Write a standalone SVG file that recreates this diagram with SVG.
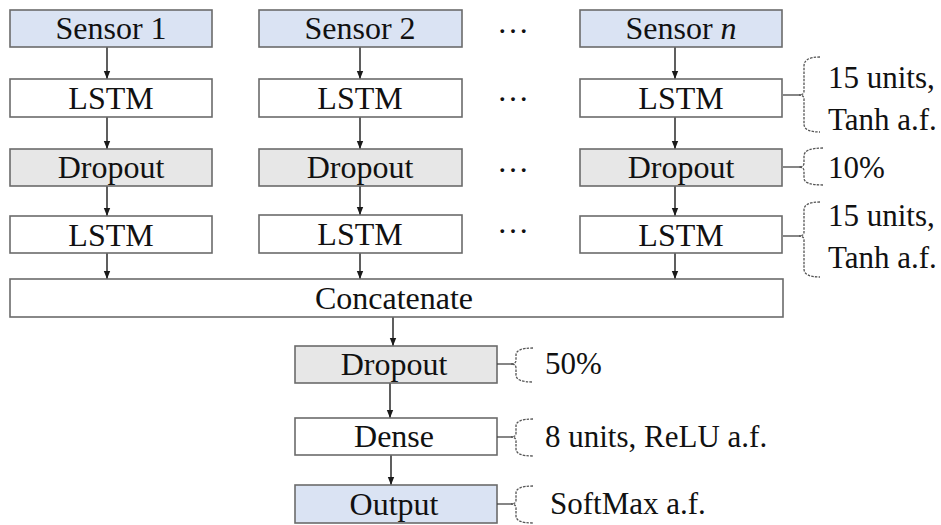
<svg xmlns="http://www.w3.org/2000/svg" width="941" height="525" viewBox="0 0 941 525">
<defs>
<marker id="ah" markerUnits="userSpaceOnUse" markerWidth="8" markerHeight="8" viewBox="0 0 8 8" refX="8" refY="4" orient="auto">
<path d="M0,0.8 L8,4 L0,7.2 Z" fill="#1a1a1a"/>
</marker>
<style>
.b{stroke:#6b6b6b;stroke-width:1.6}
.in{fill:#dae3f3}
.dr{fill:#e7e7e7}
.wh{fill:#ffffff}
.t{font-family:'Liberation Serif','Times New Roman',Tinos,'DejaVu Serif',serif;font-size:32px;fill:#111;text-anchor:middle}
.s{font-family:'Liberation Serif','Times New Roman',Tinos,'DejaVu Serif',serif;font-size:31px;fill:#111}
.c{stroke:#1a1a1a;stroke-width:1.4;fill:none;marker-end:url(#ah)}
.br{stroke:#555;stroke-width:1.3;fill:none;stroke-dasharray:2.5 1.2}
.tk{stroke:#444;stroke-width:1.3;fill:none}
</style>
</defs>
<rect width="941" height="525" fill="#ffffff"/>

<g id="connectors">
<line class="c" x1="107" y1="47" x2="107" y2="79"/>
<line class="c" x1="107" y1="117" x2="107" y2="149"/>
<line class="c" x1="107" y1="186" x2="107" y2="216"/>
<line class="c" x1="107" y1="253" x2="107" y2="279"/>
<line class="c" x1="360" y1="47" x2="360" y2="79"/>
<line class="c" x1="360" y1="117" x2="360" y2="149"/>
<line class="c" x1="360" y1="186" x2="360" y2="215"/>
<line class="c" x1="360" y1="253" x2="360" y2="279"/>
<line class="c" x1="675" y1="47" x2="675" y2="79"/>
<line class="c" x1="675" y1="117" x2="675" y2="149"/>
<line class="c" x1="675" y1="186" x2="675" y2="216"/>
<line class="c" x1="675" y1="253" x2="675" y2="279"/>
<line class="c" x1="393" y1="317" x2="393" y2="346"/>
<line class="c" x1="390" y1="383" x2="390" y2="418"/>
<line class="c" x1="391" y1="455" x2="391" y2="485"/>
</g>

<g id="sensor1"><rect class="b in" x="10" y="10" width="202" height="37"/><text class="t" x="111" y="39">Sensor 1</text></g>
<g id="sensor2"><rect class="b in" x="259" y="10" width="203" height="37"/><text class="t" x="360" y="39">Sensor 2</text></g>
<g id="sensorn"><rect class="b in" x="580" y="10" width="202" height="37"/><text class="t" x="681" y="39">Sensor <tspan font-style="italic">n</tspan></text></g>

<g id="lstm1a"><rect class="b wh" x="10" y="79" width="202" height="38"/><text class="t" x="111" y="109">LSTM</text></g>
<g id="lstm2a"><rect class="b wh" x="259" y="79" width="203" height="38"/><text class="t" x="360" y="109">LSTM</text></g>
<g id="lstmna"><rect class="b wh" x="580" y="79" width="202" height="38"/><text class="t" x="681" y="109">LSTM</text></g>

<g id="drop1"><rect class="b dr" x="10" y="149" width="202" height="37"/><text class="t" x="111" y="178">Dropout</text></g>
<g id="drop2"><rect class="b dr" x="259" y="149" width="203" height="37"/><text class="t" x="360" y="178">Dropout</text></g>
<g id="dropn"><rect class="b dr" x="580" y="149" width="202" height="37"/><text class="t" x="681" y="178">Dropout</text></g>

<g id="lstm1b"><rect class="b wh" x="10" y="216" width="202" height="37"/><text class="t" x="111" y="246">LSTM</text></g>
<g id="lstm2b"><rect class="b wh" x="259" y="215" width="203" height="38"/><text class="t" x="360" y="245">LSTM</text></g>
<g id="lstmnb"><rect class="b wh" x="580" y="216" width="202" height="37"/><text class="t" x="681" y="246">LSTM</text></g>

<g id="dots">
<text class="t" x="513" y="33">…</text>
<text class="t" x="513" y="101">…</text>
<text class="t" x="513" y="172">…</text>
<text class="t" x="513" y="233">…</text>
</g>

<g id="concat"><rect class="b wh" x="10" y="279" width="773" height="38"/><text class="t" x="394" y="309">Concatenate</text></g>
<g id="dropout"><rect class="b dr" x="295" y="346" width="202" height="37"/><text class="t" x="394" y="375">Dropout</text></g>
<g id="dense"><rect class="b wh" x="295" y="418" width="202" height="37"/><text class="t" x="394" y="447">Dense</text></g>
<g id="output"><rect class="b in" x="295" y="485" width="202" height="38"/><text class="t" x="394" y="515">Output</text></g>

<g id="annotations">
<path class="tk" d="M783,95 L801,95"/>
<path class="br" d="M820,57 Q804,57 804,66 L804,91 Q804,95 799,95 Q804,95 804,99 L804,124 Q804,132 820,132"/>
<text class="s" x="828" y="88">15 units,</text>
<text class="s" x="828" y="130">Tanh a.f.</text>

<path class="tk" d="M783,167 L801,167"/>
<path class="br" d="M823,148 Q804,148 804,156 L804,163 Q804,167 799,167 Q804,167 804,171 L804,178 Q804,185 823,185"/>
<text class="s" x="828" y="178">10%</text>

<path class="tk" d="M783,236 L801,236"/>
<path class="br" d="M820,202 Q804,202 804,210 L804,232 Q804,236 799,236 Q804,236 804,240 L804,269 Q804,277 820,277"/>
<text class="s" x="828" y="226">15 units,</text>
<text class="s" x="828" y="268">Tanh a.f.</text>

<path class="tk" d="M497,364 L513,364"/>
<path class="br" d="M533,348 Q516,348 516,355 L516,360 Q516,364 511,364 Q516,364 516,368 L516,375 Q516,382 533,382"/>
<text class="s" x="545" y="374">50%</text>

<path class="tk" d="M497,437 L513,437"/>
<path class="br" d="M533,419 Q516,419 516,426 L516,433 Q516,437 511,437 Q516,437 516,441 L516,449 Q516,456 533,456"/>
<text class="s" x="545" y="447">8 units, ReLU a.f.</text>

<path class="tk" d="M497,504 L513,504"/>
<path class="br" d="M533,486 Q516,486 516,493 L516,500 Q516,504 511,504 Q516,504 516,508 L516,516 Q516,523 533,523"/>
<text class="s" x="550" y="514">SoftMax a.f.</text>
</g>
</svg>
